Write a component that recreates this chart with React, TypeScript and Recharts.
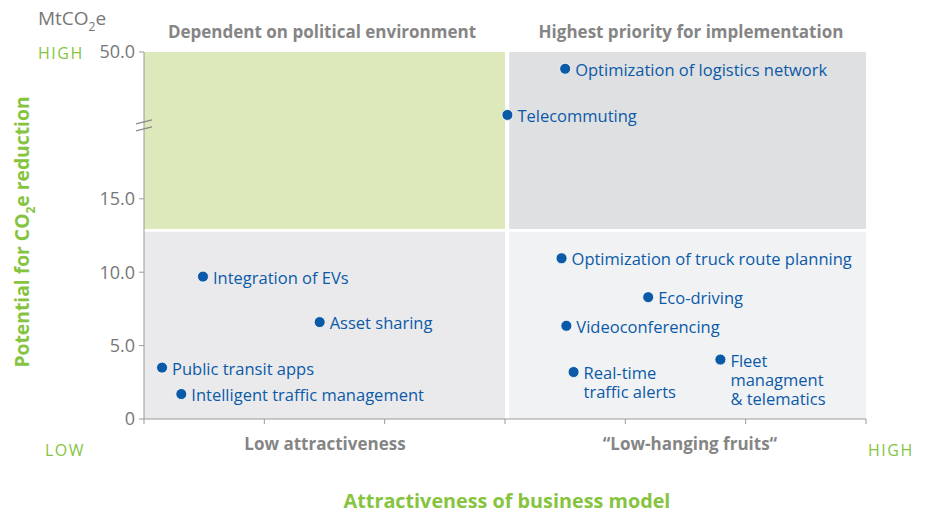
import { ScatterChart, Scatter, XAxis, YAxis, ReferenceArea, ReferenceDot } from 'recharts';

const FONT = '"Open Sans", sans-serif';
const GREEN = '#86c440';
const GREY_TEXT = '#858585';
const BLUE = '#0b5aa8';

// measures: names, attractiveness (x, 0–6), CO2 reduction potential (MtCO2e)
const MEASURES = [
  'Optimization of logistics network',
  'Telecommuting',
  'Optimization of truck route planning',
  'Eco-driving',
  'Videoconferencing',
  'Real-time\ntraffic alerts',
  'Fleet\nmanagment\n& telematics',
  'Integration of EVs',
  'Asset sharing',
  'Public transit apps',
  'Intelligent traffic management',
];
const ATTRACTIVENESS = [3.5, 3.02, 3.47, 4.19, 3.51, 3.57, 4.79, 0.49, 1.46, 0.15, 0.31];
const CO2_REDUCTION = [46, 35, 10.95, 8.3, 6.35, 3.2, 4.05, 9.7, 6.6, 3.5, 1.7];

const Y_TICKS = [0, 5, 10, 15, 50];
const X_TICKS = [0, 1, 2, 3, 4, 5, 6];
const BREAK_AT = 20; // axis units where the break marks sit
const QUADRANT_SPLIT = 12.85;

// broken axis: linear to 15, compressed above
function toAxis(v: number): number {
  return v <= 15 ? v : 15 + (v - 15) / 3.5;
}
function fromAxis(a: number): number {
  return a <= 15 ? a : 15 + (a - 15) * 3.5;
}

const data = MEASURES.map((name, i) => ({
  name,
  x: ATTRACTIVENESS[i],
  y: toAxis(CO2_REDUCTION[i]),
}));

function PointShape(props: any) {
  const { cx, cy, payload } = props;
  const lines: string[] = payload.name.split('\n');
  return (
    <g>
      <circle cx={cx} cy={cy} r={5.5} fill={BLUE} stroke="#fff" strokeWidth={0.8} />
      <text x={cx + 10} y={cy} fill={BLUE} fontSize={16.5} fontFamily={FONT} dominantBaseline="central">
        {lines.map((l, i) => (
          <tspan key={i} x={cx + 10} dy={i === 0 ? 0 : 19}>
            {l}
          </tspan>
        ))}
      </text>
    </g>
  );
}

function BreakMark(props: any) {
  const { cx, cy } = props;
  return (
    <g stroke="#8a8a8a" strokeWidth={1.2}>
      <line x1={cx - 8} y1={cy - 1.5} x2={cx + 8} y2={cy - 5.5} />
      <line x1={cx - 8} y1={cy + 5.5} x2={cx + 8} y2={cy + 1.5} />
    </g>
  );
}

export default function App() {
  return (
    <div style={{ position: 'absolute', left: 0, top: 0, width: 928, height: 513, fontFamily: FONT }}>
      <ScatterChart width={928} height={513} margin={{ top: 52, right: 62, bottom: 64, left: 0 }}>
        <ReferenceArea x1={0} x2={3} y1={QUADRANT_SPLIT + 0.1} y2={25} fill="#dde8bb" fillOpacity={1} stroke="none" />
        <ReferenceArea x1={3.035} x2={6} y1={QUADRANT_SPLIT + 0.1} y2={25} fill="#dfe0e2" fillOpacity={1} stroke="none" />
        <ReferenceArea x1={0} x2={3} y1={0} y2={QUADRANT_SPLIT - 0.1} fill="#eaeaec" fillOpacity={1} stroke="none" />
        <ReferenceArea x1={3.035} x2={6} y1={0} y2={QUADRANT_SPLIT - 0.1} fill="#f1f2f4" fillOpacity={1} stroke="none" />
        <XAxis
          type="number"
          dataKey="x"
          domain={[0, 6]}
          ticks={X_TICKS}
          tickFormatter={() => ''}
          stroke="#9a9a9a"
          tickSize={5}
          height={30}
        />
        <YAxis
          type="number"
          dataKey="y"
          domain={[0, 25]}
          ticks={Y_TICKS.map(toAxis)}
          tickFormatter={(v: number) => (v === 0 ? '0' : fromAxis(v).toFixed(1))}
          stroke="#9a9a9a"
          tick={{ fill: '#777', fontSize: 18, fontFamily: FONT }}
          tickSize={5}
          tickMargin={4}
          width={144}
        />
        <ReferenceDot x={0} y={BREAK_AT} r={0} shape={BreakMark} ifOverflow="visible" />
        <Scatter data={data} shape={PointShape} isAnimationActive={false} />
      </ScatterChart>
      <svg
        width={928}
        height={513}
        style={{ position: 'absolute', left: 0, top: 0, pointerEvents: 'none' }}
        fontFamily={FONT}
      >
        <text x={38} y={25} fontSize={19} fill="#777">
          MtCO<tspan fontSize={12} dy={6}>2</tspan>
          <tspan dy={-6}>e</tspan>
        </text>
        <text x={38} y={59} fontSize={16} fill={GREEN} letterSpacing={1.5}>HIGH</text>
        <text x={45} y={456} fontSize={16} fill={GREEN} letterSpacing={1.5}>LOW</text>
        <text x={868} y={456} fontSize={16} fill={GREEN} letterSpacing={1.5}>HIGH</text>

        <text x={322} y={38} fontSize={17} fontWeight={700} fill={GREY_TEXT} textAnchor="middle">
          Dependent on political environment
        </text>
        <text x={691} y={38} fontSize={17} fontWeight={700} fill={GREY_TEXT} textAnchor="middle">
          Highest priority for implementation
        </text>
        <text x={325} y={450} fontSize={17} fontWeight={700} fill={GREY_TEXT} textAnchor="middle">
          Low attractiveness
        </text>
        <text x={690} y={450} fontSize={17} fontWeight={700} fill={GREY_TEXT} textAnchor="middle">
          “Low-hanging fruits“
        </text>

        <text x={507} y={508} fontSize={19.8} fontWeight={700} fill={GREEN} textAnchor="middle">
          Attractiveness of business model
        </text>
        <text
          transform="translate(29 232) rotate(-90)"
          fontSize={19.3}
          fontWeight={700}
          fill={GREEN}
          textAnchor="middle"
        >
          Potential for CO<tspan fontSize={12} dy={6}>2</tspan>
          <tspan dy={-6}>e reduction</tspan>
        </text>
      </svg>
    </div>
  );
}
